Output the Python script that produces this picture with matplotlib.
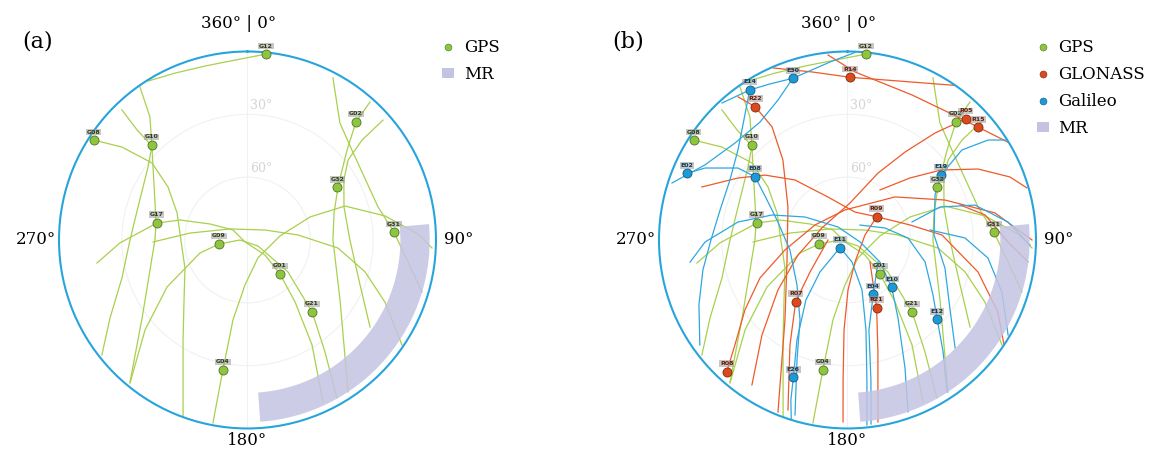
import numpy as np
import matplotlib.pyplot as plt
from matplotlib.lines import Line2D
from matplotlib.patches import Patch

plt.rcParams["font.family"] = ["DejaVu Serif"]

# satellite positions (azimuth deg, elevation deg)
gps_prn = ["G12", "G08", "G10", "G17", "G02", "G32", "G31", "G09", "G01", "G21", "G04"]
gps_az = [5.7, 303.0, 314.8, 280.8, 42.6, 59.6, 86.9, 262.0, 136.3, 138.1, 190.7]
gps_el = [0.8, 2.4, 25.6, 45.9, 13.5, 40.3, 20.0, 76.3, 67.6, 43.8, 26.8]

glo_prn = ["R14", "R22", "R05", "R15", "R09", "R07", "R08", "R21"]
glo_az = [0.9, 325.3, 44.3, 49.3, 51.4, 220.0, 222.5, 156.7]
glo_el = [12.3, 12.6, 9.2, 7.5, 72.2, 51.5, 4.7, 54.8]

gal_prn = ["E14", "E30", "E02", "E08", "E19", "E11", "E26", "E10", "E04", "E12"]
gal_az = [326.9, 341.3, 292.5, 304.4, 55.2, 224.2, 201.5, 136.9, 154.6, 131.5]
gal_el = [4.5, 8.5, 6.9, 36.5, 35.6, 84.9, 19.5, 59.1, 61.3, 32.8]

# tracks, (azimuth, elevation) read along each arc
gps_tracks = [
    [(328, 0.5), (336.8, 3.2), (346.3, 4.5), (356, 3.9), (5.7, 0.8)],
    [(324.9, 0.7), (321.6, 15.0), (314.5, 26.0), (300.5, 38.2), (280.5, 45.6), (270, 45.8),
     (252.9, 41.3), (233.5, 27.4), (219.6, 2.0)],
    [(316, 3.7), (314.9, 15.6), (314.5, 26.0), (306.3, 31.1), (286.8, 35.4), (270, 33.9),
     (253.2, 27.4), (240.4, 14.5), (231.7, 1.4)],
    [(303, 2.4), (306.5, 15.4), (308.9, 31.4), (303.7, 44.4), (291, 54.0), (270, 58.2),
     (245.9, 57.3), (226.6, 48.3), (212.8, 33.2), (200, 0.1)],
    [(261.3, 17.3), (268.7, 29.1), (280.6, 46.0), (286.5, 56.4), (293.1, 70.5), (304.6, 81.6),
     (231.3, 88.5), (130.6, 79.0), (136.3, 67.6), (142.5, 52.7), (148.4, 31.2), (155.0, 4.7)],
    [(268.8, 44.9), (276.9, 62.4), (302.2, 80.1), (60.3, 80.4), (84.3, 65.8), (95.1, 46.6),
     (105.2, 31.8), (114.3, 18.0), (124.2, 0.8)],
    [(219.4, 1.6), (228.7, 24.9), (239.7, 45.5), (254.7, 66.5), (262.0, 76.3), (270, 86.4),
     (119.7, 84.2), (128.3, 65.4), (138.1, 43.8), (145.3, 25.0), (150.5, 3.3)],
    [(190.7, 1.1), (190.7, 26.8), (190.3, 51.2), (183.2, 68.5), (149.7, 80.1), (83.0, 74.4),
     (69.8, 58.2), (70.8, 40.7), (80.1, 23.3), (88.0, 8.5), (92.5, 1.8)],
    [(27.8, 2.5), (38.3, 18.8), (49.3, 24.2), (75.8, 25.7), (86.9, 20.0), (97.8, 12.6), (106.6, 3.1)],
    [(41.6, 1.9), (42.6, 13.5), (47.9, 25.9), (53.5, 33.8), (59.6, 39.9), (72.7, 46.7), (90, 49.2),
     (123.0, 37.3), (146.5, 3.0)],
    [(48.5, 3.6), (48.9, 17.4), (51.5, 28.6), (58.1, 35.8), (71.1, 41.3), (90, 41.1),
     (111.8, 32.1), (125.4, 18.2)],
]

glo_tracks = [
    [(336.6, 0.5), (348.1, 8.0), (0.9, 12.3), (18.3, 10.1), (34.7, 0.2)],
    [(354, 1.2), (2.6, 9.7), (24.0, 14.2), (41.9, 11.1), (49.3, 7.5), (58.7, 0.2)],
    [(322.6, 4.0), (325.3, 12.6), (326.3, 25.1), (321.1, 40.9), (299.0, 57.5), (251.7, 59.6),
     (218.0, 41.5), (202.0, 1.4)],
    [(44.3, 9.2), (39.3, 24.0), (33.2, 39.8), (24.5, 54.9), (3.9, 72.3), (295.2, 76.5),
     (253.1, 65.3), (234.3, 49.1), (222.0, 29.0), (213.4, 7.1)],
    [(290.0, 16.0), (299.5, 29.9), (308.2, 39.9), (318.8, 51.9), (335.6, 67.5), (15.0, 76.2),
     (51.4, 72.2), (76.5, 59.3), (87.0, 44.8), (103.8, 25.8), (115.6, 10.4), (123.7, 0.2)],
    [(222.5, 4.7), (227.0, 16.5), (235.7, 30.7), (246.5, 44.4), (261.0, 59.8), (294.8, 72.9),
     (355.2, 75.6), (47.8, 59.4), (67.7, 39.7), (79.6, 18.4), (90, 1.9)],
    [(270, 80.7), (229.5, 66.5), (220.0, 51.5), (208.7, 32.8), (199.3, 4.0)],
    [(134.4, 75.0), (156.7, 54.8), (164.8, 34.6), (170.5, 1.9)],
    [(51.4, 72.2), (74.1, 81.3), (161.2, 78.9), (179.4, 66.1), (182.2, 47.0), (181.8, 23.1), (181.4, 3.1)],
    [(33.0, 61.5), (45.2, 48.0), (53.2, 34.2), (61.5, 19.0), (68.8, 6.8), (73.8, 0.8)],
    [(72.7, 33.7), (79.7, 23.2), (90.7, 13.4), (96.9, 3.2)],
]

gal_tracks = [
    [(2.3, 0.4), (354.4, 4.6), (341.3, 8.5), (333.6, 6.8), (326.9, 4.5), (317.5, 1.3)],
    [(326.9, 4.5), (319.2, 14.3), (309.4, 22.3), (297.0, 27.0), (283.2, 27.5), (270, 24.8),
     (258.3, 19.5), (246.4, 12.6), (234.6, 3.5)],
    [(341.3, 8.5), (333.6, 15.4), (323.4, 19.9), (310.8, 19.1), (297.8, 13.1), (288.0, 1.9)],
    [(292.5, 6.9), (296.8, 13.8), (303.3, 27.4), (304.4, 36.5), (297.3, 46.2), (284.5, 55.7),
     (260.1, 62.1), (228.3, 57.7), (210.7, 45.6), (202.8, 27.8), (196.7, 2.8)],
    [(197.4, 0.2), (199.5, 9.0), (201.5, 19.5), (206.8, 36.5), (214.7, 55.1), (220.7, 69.9),
     (224.2, 84.9), (168.4, 79.3), (163.8, 65.1), (168.4, 46.1), (172.1, 22.5), (174.0, 1.2)],
    [(262.0, 14.1), (269.2, 22.0), (279.3, 37.0), (288.3, 52.0), (298.4, 66.9), (323.8, 82.3),
     (99.1, 83.9), (124.1, 71.3), (136.9, 59.1), (147.1, 45.6), (155.8, 23.0), (160.6, 3.0)],
    [(57.6, 0.9), (54.6, 7.6), (51.8, 20.5), (55.2, 35.6), (62.8, 43.0), (86.7, 48.6),
     (106.0, 41.6), (124.3, 30.7), (135.1, 17.2)],
    [(39.8, 80.7), (72.3, 71.2), (88.1, 61.1), (105.8, 51.5), (122.8, 41.4), (131.5, 32.8),
     (139.5, 19.7), (146.8, 3.2)],
    [(125.8, 72.0), (154.6, 61.3), (166.6, 45.8), (170.5, 22.2), (172.7, 1.4)],
    [(74.4, 58.0), (70.4, 43.1), (74.7, 26.9), (83.6, 12.9), (91.6, 2.8)],
    [(83.1, 50.3), (89.0, 33.9), (97.3, 22.4), (108.6, 12.2), (120.6, 0.9)],
]

# multipath / masked region
mr_az = [85, 176]
mr_el = [3, 17]

gps_line, gps_face, gps_edge, gps_txt = "#a8d04c", "#8cc63f", "#557026", "#2f3d15"
glo_line, glo_face, glo_edge, glo_txt = "#ee5a2a", "#dc4a1c", "#7c2a0e", "#6a1c06"
gal_line, gal_face, gal_edge, gal_txt = "#2ea7e0", "#1c9ad6", "#17577e", "#0e3c5a"
mr_color = "#c4c4e2"
ring_color = "#27a4dc"

fig = plt.figure(figsize=(11.56, 4.5), dpi=100)


def sky_axes(left):
    ax = fig.add_axes([left, 0.0478, 0.3261, 0.8378], projection="polar")
    ax.bar(np.radians(np.mean(mr_az)), mr_el[1] - mr_el[0], width=np.radians(mr_az[1] - mr_az[0]),
           bottom=90 - mr_el[1], color=mr_color, alpha=0.85, lw=0, zorder=3)
    ax.set_theta_zero_location("N")
    ax.set_theta_direction(-1)
    ax.set_ylim(0, 90)
    ax.set_thetagrids([0, 180], labels=["", ""])
    ax.set_rgrids([30, 60], labels=["", ""])
    ax.grid(color="#f1f1f1", lw=0.8)
    ax.spines["polar"].set_color(ring_color)
    ax.spines["polar"].set_linewidth(1.5)
    ax.tick_params(length=0, pad=0)
    for el in (30, 60):
        ax.annotate(f"{el}°", (0, 90 - el), xytext=(10, 6), textcoords="offset points",
                    ha="center", va="center", fontsize=9, color="#d4d4d4", zorder=1)
    ax.text(0.476, 1.073, "360° | 0°", transform=ax.transAxes, ha="center", va="center", fontsize=12)
    ax.text(-0.062, 0.5, "270°", transform=ax.transAxes, ha="center", va="center", fontsize=12)
    ax.text(1.06, 0.5, "90°", transform=ax.transAxes, ha="center", va="center", fontsize=12)
    ax.text(0.5, -0.033, "180°", transform=ax.transAxes, ha="center", va="center", fontsize=12)
    return ax


def draw_tracks(ax, tracks, color):
    for trk in tracks:
        az = np.radians([p[0] for p in trk])
        el = np.array([p[1] for p in trk])
        ax.plot(az, 90 - el, color=color, lw=0.9, zorder=2)


def draw_sats(ax, prn, az, el, face, edge, txt):
    th = np.radians(az)
    r = 90 - np.array(el)
    ax.plot(th, r, "o", ms=6.5, mfc=face, mec=edge, mew=0.6, zorder=5, clip_on=False)
    for name, t, rr in zip(prn, th, r):
        ax.annotate(name, (t, rr), xytext=(0, 4.0), textcoords="offset points", ha="center",
                    va="bottom", fontsize=4.5, fontweight="bold", color=txt, family="DejaVu Sans",
                    bbox=dict(boxstyle="square,pad=0.12", fc="#9a9a9a", ec="none", alpha=0.55),
                    zorder=6, annotation_clip=False)


# (a) GPS only
ax1 = sky_axes(0.05104)
draw_tracks(ax1, gps_tracks, gps_line)
draw_sats(ax1, gps_prn, gps_az, gps_el, gps_face, gps_edge, gps_txt)

# (b) GPS + GLONASS + Galileo
ax2 = sky_axes(0.57007)
draw_tracks(ax2, gps_tracks, gps_line)
draw_tracks(ax2, glo_tracks, glo_line)
draw_tracks(ax2, gal_tracks, gal_line)
draw_sats(ax2, gps_prn, gps_az, gps_el, gps_face, gps_edge, gps_txt)
draw_sats(ax2, glo_prn, glo_az, glo_el, glo_face, glo_edge, glo_txt)
draw_sats(ax2, gal_prn, gal_az, gal_el, gal_face, gal_edge, gal_txt)

fig.text(0.0329, 0.9067, "(a)", ha="center", va="center", fontsize=16)
fig.text(0.5433, 0.9067, "(b)", ha="center", va="center", fontsize=16)

# legends
def sat_handle(face, edge):
    return Line2D([], [], ls="none", marker="o", ms=5, mfc=face, mec=edge, mew=0.4)

mr_handle = Patch(facecolor=mr_color, edgecolor="none")
leg_kw = dict(loc="upper left", frameon=False, fontsize=12, handlelength=0.7, handleheight=0.5,
              handletextpad=0.6, labelspacing=0.6, borderpad=0, borderaxespad=0)
fig.legend([sat_handle(gps_face, gps_edge), mr_handle], ["GPS", "MR"],
           bbox_to_anchor=(0.3824, 0.913), **leg_kw)
fig.legend([sat_handle(gps_face, gps_edge), sat_handle(glo_face, glo_edge),
            sat_handle(gal_face, gal_edge), mr_handle],
           ["GPS", "GLONASS", "Galileo", "MR"],
           bbox_to_anchor=(0.897, 0.913), **leg_kw)

fig.savefig("out.png", dpi=100)
